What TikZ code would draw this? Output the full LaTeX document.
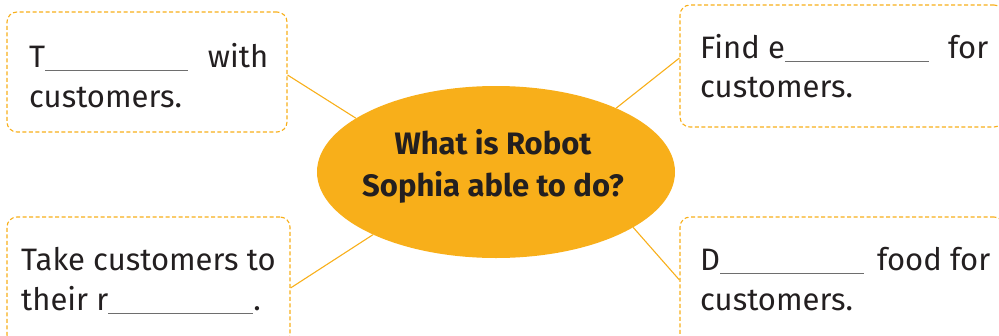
\documentclass[tikz,border=0pt]{standalone}
\usepackage{fontspec}
\setmainfont{Fira Sans}
\usetikzlibrary{shapes.geometric}
\definecolor{org}{HTML}{F8AF1A}
\definecolor{txt}{HTML}{231F20}
\definecolor{ulgray}{HTML}{6E6E6E}
\newcommand{\blank}[1]{{\color{ulgray}\rule[-4pt]{#1}{1.3pt}}}
\tikzset{
  box/.style={draw=org, line width=1.1pt, dash pattern=on 4pt off 2.5pt, rounded corners=10pt, rectangle, inner sep=0pt},
  conn/.style={draw=org, line width=1.1pt},
  lbl/.style={anchor=base west, inner sep=0pt, text=txt, font=\fontsize{31}{36}\selectfont},
}
\begin{document}
\begin{tikzpicture}[x=1pt,y=-1pt]
\useasboundingbox (0,0) rectangle (999,335);
\clip (0,0) rectangle (999,335);
\node[box, minimum width=280pt, minimum height=120pt] (tl) at (147,72) {};
\node[box, minimum width=324pt, minimum height=122pt] (tr) at (842,66) {};
\node[box, minimum width=283pt, minimum height=128pt] (bl) at (148.5,281) {};
\node[box, minimum width=324pt, minimum height=128pt] (br) at (842,281) {};
\node[ellipse, fill=org, minimum width=358pt, minimum height=172pt, inner sep=0pt] (ell) at (496,172) {};
\draw[conn] ([yshift=-3pt]tl.east) -- (ell.159);
\draw[conn] ([yshift=8pt]tr.west) -- (ell.28);
\draw[conn] ([yshift=-7pt]bl.east) -- (ell.207);
\draw[conn] ([yshift=1pt]br.west) -- (ell.338);
\node[align=center, text=txt, font=\bfseries\fontsize{31}{42}\selectfont, inner sep=0pt] (q) at (493,166) {What is Robot\\Sophia able to do?};
\node[lbl] (tl1) at (29,67) {\hbox to 239pt{T\blank{143pt}\hfill with}};
\node[lbl] (tl2) at (29,107) {customers.};
\node[lbl] (tr1) at (700,58) {\hbox to 288pt{Find e\blank{144pt}\hfill for}};
\node[lbl] (tr2) at (700,97) {customers.};
\node[lbl] (bl1) at (21,270) {Take customers to};
\node[lbl] (bl2) at (21,310) {their r\blank{145pt}.};
\node[lbl] (br1) at (700,270) {\hbox to 290pt{D\blank{144pt}\hfill food for}};
\node[lbl] (br2) at (700,310) {customers.};
\end{tikzpicture}
\end{document}
